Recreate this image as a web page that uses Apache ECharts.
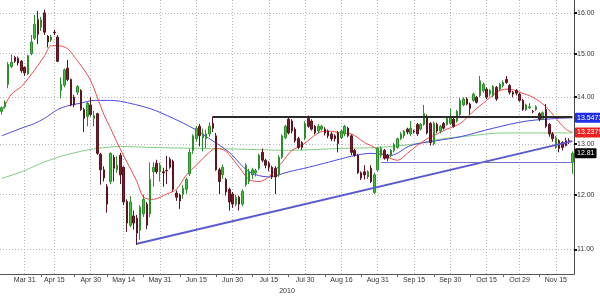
<!DOCTYPE html>
<html><head><meta charset="utf-8">
<script src="https://cdn.jsdelivr.net/npm/echarts@6/dist/echarts.min.js"></script>
<style>html,body{margin:0;padding:0;background:#fff}#c{width:600px;height:300px}</style>
</head><body><div id="c"></div>
<script>
// ---- data ----
const startDate = '2010-03-22';
const endDate = '2010-11-22';
const holidays = ['2010-04-02', '2010-04-05'];
const labelDates = ['2010-03-31','2010-04-15','2010-04-30','2010-05-14','2010-05-31','2010-06-15','2010-06-30','2010-07-15','2010-07-30','2010-08-16','2010-08-31','2010-09-15','2010-09-30','2010-10-15','2010-10-29','2010-11-15'];
const yearLabel = '2010';
const yTicks = [11, 12, 13, 14, 15, 16];

const open = [13.69,13.79,14.29,14.70,14.91,14.89,14.82,14.68,14.53,15.00,15.37,15.83,15.64,16.00,15.42,15.33,15.52,15.40,14.15,14.27,
14.66,14.40,14.00,14.11,14.15,13.73,13.58,13.83,13.54,13.64,12.79,12.48,12.15,12.25,12.73,12.48,12.77,12.53,11.87,11.43,
11.60,11.56,11.34,11.64,11.82,11.64,12.44,12.61,12.44,12.44,12.47,12.69,12.65,12.03,11.99,12.01,12.10,12.40,12.87,13.11,
13.37,13.13,13.11,13.21,13.43,13.17,12.48,12.38,12.29,12.10,12.01,11.82,11.95,11.82,12.19,12.25,12.38,12.42,12.51,12.83,
12.67,12.61,12.53,12.51,12.38,12.73,13.13,13.52,13.48,13.31,13.11,13.03,13.13,13.54,13.48,13.37,13.27,13.31,13.31,13.27,
13.21,13.17,13.23,13.13,13.21,13.33,13.17,12.87,12.77,12.42,12.44,12.34,12.51,12.04,12.48,12.77,12.87,12.77,12.77,12.87,
12.93,13.11,13.17,13.31,13.21,13.27,13.41,13.31,13.41,13.58,13.43,13.01,13.41,13.27,13.43,13.41,13.43,13.52,13.48,13.62,
13.83,13.96,13.85,13.93,14.00,14.04,14.15,14.18,14.07,14.04,14.22,14.18,14.26,14.40,14.26,14.11,14.15,14.07,13.93,13.73,
13.77,13.69,13.73,13.64,13.52,13.73,13.41,13.21,12.93,13.07,13.03,13.07,13.07,12.63];
const close = [13.77,13.89,14.75,14.80,14.82,14.78,14.60,14.55,14.95,15.28,15.71,15.47,15.83,15.52,15.28,15.40,15.50,14.82,14.29,14.62,
14.40,13.83,13.83,14.24,13.73,13.54,13.87,13.62,13.60,12.81,12.48,12.32,11.82,12.81,12.51,12.57,12.38,11.86,11.47,11.86,
11.47,11.29,11.76,11.91,11.43,12.29,12.53,12.44,12.57,12.42,12.46,12.53,12.10,11.95,11.88,12.12,12.29,12.83,13.17,13.33,
13.17,13.21,13.21,13.37,13.33,12.48,12.25,12.53,12.05,11.86,11.82,11.95,11.82,12.06,12.57,12.44,12.48,12.46,12.77,12.67,
12.57,12.53,12.34,12.34,12.73,13.17,13.37,13.23,13.27,13.07,12.93,12.93,13.43,13.37,13.31,13.23,13.37,13.37,13.23,13.17,
13.11,13.11,13.01,13.27,13.37,13.17,12.83,12.77,12.42,12.32,12.38,12.44,12.25,12.38,12.91,12.91,12.71,12.71,12.87,12.99,
13.11,13.21,13.27,13.25,13.33,13.26,13.21,13.41,13.64,13.23,13.03,13.43,13.27,13.37,13.33,13.54,13.54,13.37,13.69,13.93,
13.96,13.85,13.75,14.07,13.89,14.37,14.29,14.00,14.15,14.24,13.96,14.29,14.33,14.33,14.11,14.07,14.09,13.93,13.73,13.83,
13.79,13.68,13.79,13.52,13.66,13.37,13.21,13.11,13.13,12.91,12.93,12.97,13.06,12.81];
const low = [13.62,13.75,14.20,14.66,14.78,14.72,14.55,14.48,14.50,14.96,15.33,15.23,15.55,15.45,15.15,15.28,15.45,14.80,13.97,14.22,
14.36,13.80,13.78,14.05,13.70,13.25,13.37,13.58,13.37,12.78,12.19,12.25,11.66,12.20,12.25,12.42,12.20,11.80,11.31,11.40,
11.35,11.08,11.17,11.58,11.36,11.58,12.15,12.40,12.25,12.15,12.20,12.50,12.06,11.88,11.73,11.92,12.02,12.36,12.80,13.05,
12.95,12.85,12.92,13.15,13.25,12.46,12.01,12.30,11.98,11.70,11.75,11.78,11.70,11.78,12.15,12.20,12.30,12.35,12.48,12.63,
12.51,12.45,12.30,12.01,12.34,12.70,13.10,13.20,13.22,13.03,12.90,12.88,13.08,13.34,13.28,13.20,13.22,13.28,13.18,13.12,
13.06,13.05,12.83,13.10,13.16,13.14,12.77,12.74,12.40,12.28,12.29,12.30,12.22,12.01,12.45,12.72,12.68,12.65,12.73,12.83,
12.90,13.08,13.12,13.20,13.17,13.22,13.17,13.28,13.38,13.20,12.97,12.97,13.23,13.22,13.30,13.38,13.40,13.34,13.45,13.58,
13.80,13.82,13.62,13.90,13.86,14.00,14.10,13.96,14.02,14.00,13.92,14.14,14.22,14.30,14.06,14.00,14.04,13.90,13.70,13.70,
13.74,13.65,13.70,13.48,13.50,13.33,13.15,13.05,12.90,12.83,12.87,12.95,13.00,12.40];
const high = [13.80,13.93,14.80,14.98,14.95,14.93,14.85,14.70,14.97,15.45,15.95,16.05,15.90,16.08,15.45,15.45,15.58,15.45,14.45,14.65,
14.85,14.42,14.05,14.27,14.18,13.77,13.90,14.00,13.70,13.66,12.82,12.55,12.20,12.83,12.78,12.75,12.82,12.55,11.91,11.97,
11.70,11.62,11.80,12.00,11.86,12.63,12.63,12.68,12.62,12.52,12.76,12.73,12.68,12.08,12.02,12.18,12.33,12.90,13.20,13.38,
13.42,13.32,13.30,13.45,13.58,13.23,12.52,12.58,12.32,12.13,12.05,12.00,11.98,12.10,12.61,12.50,12.52,12.50,12.80,12.91,
12.70,12.65,12.56,12.55,12.77,13.20,13.40,13.58,13.52,13.35,13.15,13.06,13.48,13.60,13.52,13.40,13.42,13.40,13.35,13.30,
13.25,13.20,13.27,13.30,13.40,13.36,13.20,12.90,12.80,12.45,12.57,12.47,12.57,12.42,12.94,12.95,12.90,12.80,12.90,13.02,
13.13,13.25,13.29,13.34,13.48,13.30,13.44,13.44,13.83,13.62,13.46,13.47,13.45,13.40,13.46,13.57,13.75,13.55,13.72,13.98,
14.00,14.00,13.88,14.10,14.03,14.48,14.33,14.22,14.18,14.27,14.25,14.32,14.38,14.48,14.30,14.14,14.18,14.10,13.96,13.86,
13.87,13.72,13.82,13.67,13.69,13.85,13.44,13.25,13.17,13.10,13.06,13.13,13.12,12.85];

// moving averages: [day index, value]
const maShort = [[0,13.69],[3,14.07],[6,14.24],[10,14.62],[13,14.95],[15,15.19],[17,15.19],[20,15.12],[22,14.93],[25,14.62],[27,14.37],[29,14.00],[31,13.62],[33,13.33],[35,13.03],[38,12.63],[41,12.25],[43,11.95],[46,11.91],[50,12.01],[53,12.10],[56,12.38],[59,12.57],[62,12.77],[65,12.91],[68,12.85],[72,12.53],[75,12.29],[78,12.25],[81,12.34],[85,12.63],[88,12.87],[91,12.97],[96,13.23],[99,13.27],[103,13.23],[106,13.21],[110,13.03],[113,12.93],[116,12.77],[120,12.67],[123,12.81],[126,12.97],[129,13.11],[132,13.21],[135,13.31],[139,13.43],[143,13.69],[147,13.93],[151,14.15],[154,14.18],[157,14.11],[161,14.00],[165,13.79],[168,13.54],[171,13.31],[173,13.24]];
const maMid = [[0,13.17],[6,13.33],[10,13.43],[13,13.54],[17,13.73],[20,13.81],[24,13.87],[28,13.93],[32,13.93],[36,13.91],[45,13.75],[52,13.54],[58,13.33],[63,13.11],[69,12.83],[75,12.44],[81,12.34],[87,12.44],[93,12.53],[99,12.63],[106,12.75],[112,12.81],[118,12.77],[124,12.97],[132,13.07],[139,13.15],[149,13.33],[159,13.48],[169,13.54],[173,13.55]];
const maLong = [[0,12.31],[6,12.44],[12,12.61],[18,12.75],[24,12.85],[29,12.91],[36,12.95],[45,12.93],[60,12.91],[75,12.89],[87,12.87],[103,12.91],[114,12.93],[124,12.99],[134,13.11],[142,13.17],[152,13.23],[162,13.23],[173,13.23]];

// drawn studies
const resistanceLevel = 13.57, resistanceFrom = 64, resistanceTo = 173;
const supportFrom = [41, 11.10], supportTo = [173, 13.06];
const flatLevel = 12.63, flatFrom = 115, flatTo = 173;
const tagMid = 13.5473, tagShort = 13.2379, tagLast = 12.81;

// ---- build ----
const months = ['Jan','Feb','Mar','Apr','May','Jun','Jul','Aug','Sep','Oct','Nov','Dec'];
const dates = [];
(function () {
  let d = new Date(startDate + 'T00:00:00Z');
  const end = new Date(endDate + 'T00:00:00Z');
  while (d <= end) {
    const s = d.toISOString().slice(0, 10);
    const wd = d.getUTCDay();
    if (wd !== 0 && wd !== 6 && holidays.indexOf(s) < 0) dates.push(s);
    d = new Date(d.getTime() + 86400000);
  }
})();
const labelSet = new Set(labelDates);
const labelIdx = labelDates.map(s => dates.indexOf(s));
const tickSet = new Set();
for (let k = 0; k + 1 < labelIdx.length; k++) tickSet.add(Math.round((labelIdx[k] + labelIdx[k + 1]) / 2));
const ohlc = open.map((o, i) => [o, close[i], low[i], high[i]]);
const toCat = arr => arr.map(p => [dates[p[0]], p[1]]);
const fmtDate = s => { const p = s.split('-'); return months[+p[1] - 1] + ' ' + (+p[2]); };
const FONT = "'Liberation Sans', Arial, sans-serif";
const tagLabel = (text, bg) => ({
  show: true, position: 'end', distance: 1, formatter: text, fontSize: 7, fontFamily: FONT,
  color: '#fff', backgroundColor: bg, padding: [2, 2, 1, 2], borderRadius: 1
});
const hidden = { color: 'rgba(0,0,0,0)', width: 0 };

const chart = echarts.init(document.getElementById('c'), null, { renderer: 'canvas' });
chart.setOption({
  animation: false,
  backgroundColor: '#fff',
  grid: { left: 0, right: 26, top: 0, bottom: 18, containLabel: false },
  xAxis: {
    type: 'category', data: dates, boundaryGap: true,
    axisLine: { lineStyle: { color: '#555', width: 1 } },
    axisTick: { show: true, alignWithLabel: true, interval: (i) => tickSet.has(i), length: 3, lineStyle: { color: '#666' } },
    axisLabel: { interval: (i, v) => labelSet.has(v), formatter: fmtDate, fontSize: 7, color: '#333', margin: 2, fontFamily: FONT },
    splitLine: { show: true, alignWithLabel: true, interval: (i, v) => labelSet.has(v), lineStyle: { type: [1, 2], color: '#b8b8b8', width: 1 } },
    name: yearLabel, nameLocation: 'middle', nameGap: 9,
    nameTextStyle: { fontSize: 7, color: '#333', fontFamily: FONT }
  },
  yAxis: {
    type: 'log', logBase: 10, position: 'right', min: 10.58, max: 16.33,
    axisLine: { show: true, lineStyle: { color: '#444', width: 1 } },
    axisTick: { show: true, customValues: yTicks, length: 3, lineStyle: { color: '#111', width: 2 } },
    axisLabel: { customValues: yTicks, formatter: v => Number(v).toFixed(2), fontSize: 7, color: '#333', margin: 3, fontFamily: FONT },
    splitLine: { show: true, lineStyle: { type: [1, 2], color: '#b8b8b8', width: 1 } }
  },
  series: [
    { type: 'line', data: toCat(maLong), smooth: 0.3, symbol: 'none', lineStyle: { color: '#7fcf7f', width: 1 }, z: 2 },
    { type: 'line', data: toCat(maMid), smooth: 0.3, symbol: 'none', lineStyle: { color: '#4a4ae0', width: 1 }, z: 2 },
    { type: 'line', data: toCat(maShort), smooth: 0.3, symbol: 'none', lineStyle: { color: '#ef4a4a', width: 1 }, z: 2 },
    {
      type: 'candlestick', data: ohlc, barWidth: 2, z: 3,
      itemStyle: { color: '#3cc43c', color0: '#7a1c2a', borderColor: '#2a8f2a', borderColor0: '#5c1420', borderWidth: 1 },
      markLine: {
        silent: true, symbol: 'none', animation: false, label: { show: false },
        data: [
          [{ coord: [dates[resistanceFrom], resistanceLevel], lineStyle: { color: '#2a2a2a', width: 2, type: 'solid' } }, { coord: [dates[resistanceTo], resistanceLevel] }],
          [{ coord: [dates[supportFrom[0]], supportFrom[1]], lineStyle: { color: '#5a5acf', width: 2, type: 'solid' } }, { coord: [dates[supportTo[0]], supportTo[1]] }],
          [{ coord: [dates[flatFrom], flatLevel], lineStyle: { color: '#7070c8', width: 1, type: 'solid' } }, { coord: [dates[flatTo], flatLevel] }]
        ]
      }
    },
    {
      type: 'line', data: toCat([[173, tagLast]]), symbol: 'none', clip: false, z: 6,
      lineStyle: hidden,
      markLine: {
        silent: true, symbol: 'none', animation: false,
        data: [
          { yAxis: tagMid, lineStyle: hidden, label: tagLabel(String(tagMid), '#1f2fe8') },
          { yAxis: tagShort, lineStyle: hidden, label: tagLabel(String(tagShort), '#e82020') },
          { yAxis: tagLast, lineStyle: hidden, label: tagLabel(tagLast.toFixed(2), '#000') }
        ]
      }
    }
  ]
});
</script></body></html>
